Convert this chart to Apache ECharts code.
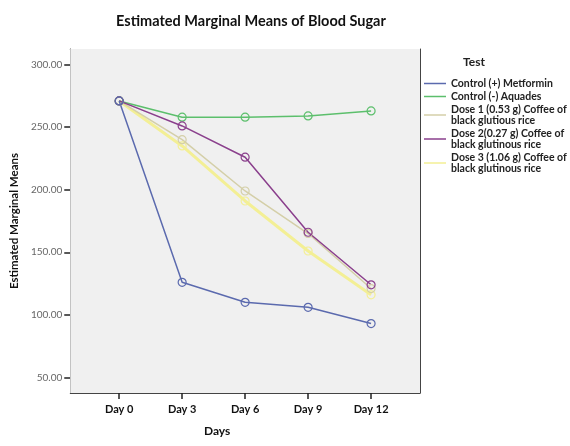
<!DOCTYPE html>
<html>
<head>
<meta charset="utf-8">
<script src="https://cdn.jsdelivr.net/npm/echarts@6/dist/echarts.min.js"></script>
<style>
  html, body { margin: 0; padding: 0; background: #fff; }
  #chart { width: 570px; height: 446px; }
</style>
</head>
<body>
<div id="chart"></div>
<script>
const days = [0, 3, 6, 9, 12]
const dayLabels = ['Day 0', 'Day 3', 'Day 6', 'Day 9', 'Day 12']
const yTicks = [50, 100, 150, 200, 250, 300]

const metformin = [271, 126, 110, 106, 93]
const aquades = [271, 258, 258, 259, 263]
const dose1 = [271, 240, 199, 165, 121]
const dose2 = [271, 251, 226, 166, 124]
const dose3 = [271, 235, 191, 151, 116]

const seriesNames = [
  'Control (+) Metformin',
  'Control (-) Aquades',
  'Dose 1 (0.53 g) Coffee of\nblack glutious rice',
  'Dose 2(0.27 g) Coffee of\nblack glutinous rice',
  'Dose 3 (1.06 g) Coffee of\nblack glutinous rice'
]
const seriesColors = ['#5b6aae', '#5cbf6c', '#d4cfa8', '#8a3f8c', '#f3ef95']

// axis extents
const xMin = -2.33, xMax = 14.33
const yMin = 37.5, yMax = 312.5

const font = 'Lato, "Open Sans", sans-serif'
const myChart = echarts.init(document.getElementById('chart'))

const makeLine = (idx, values, width) => ({
  name: seriesNames[idx],
  type: 'line',
  data: days.map((d, i) => [d, values[i]]),
  symbol: 'circle',
  symbolSize: 8,
  lineStyle: { color: seriesColors[idx], width: width },
  itemStyle: { color: 'rgba(0,0,0,0)', borderColor: seriesColors[idx], borderWidth: 1.2 }
})

// frame lines for top / right side
const frameAxis = {
  axisLine: { show: true, onZero: false, lineStyle: { color: '#444' } },
  axisTick: { show: false },
  axisLabel: { show: false },
  splitLine: { show: false }
}

const series = [
  makeLine(4, dose3, 3),
  makeLine(2, dose1, 1.5),
  makeLine(1, aquades, 1.5),
  makeLine(3, dose2, 1.5),
  makeLine(0, metformin, 1.5)
]
// plot background
series[0].markArea = {
  silent: true,
  itemStyle: { color: '#f0f0f0' },
  data: [[{ coord: [xMin, yMin] }, { coord: [xMax, yMax] }]]
}

const option = {
  backgroundColor: '#fff',
  animation: false,
  textStyle: { fontFamily: font },
  title: [
    {
      text: 'Estimated Marginal Means of Blood Sugar',
      left: 246,
      textAlign: 'center',
      top: 9,
      textStyle: { fontSize: 14.5, fontWeight: 'bold', color: '#111', fontFamily: font }
    },
    {
      text: 'Test',
      left: 458,
      top: 51,
      textStyle: { fontSize: 12, fontWeight: 'bold', color: '#222', fontFamily: font }
    }
  ],
  grid: {
    left: 63,
    right: 150,
    top: 49,
    bottom: 53
  },
  legend: {
    orient: 'vertical',
    left: 419,
    top: 73,
    icon: 'rect',
    itemWidth: 22,
    itemHeight: 1.5,
    itemGap: 2,
    data: seriesNames.map((n, i) => ({ name: n, itemStyle: { color: seriesColors[i], borderWidth: 0 } })),
    textStyle: { fontSize: 10.5, fontWeight: 'bold', color: '#222', lineHeight: 11, fontFamily: font }
  },
  xAxis: [
    {
      type: 'value',
      min: xMin,
      max: xMax,
      name: 'Days',
      nameLocation: 'middle',
      nameGap: 32,
      nameTextStyle: { fontSize: 12, fontWeight: 'bold', color: '#111', padding: [0, 56, 0, 0] },
      splitLine: { show: false },
      axisLine: { show: true, onZero: false, lineStyle: { color: '#444' } },
      axisTick: { show: true, length: 6, customValues: days, lineStyle: { color: '#222', width: 1.5 } },
      axisLabel: {
        customValues: days,
        margin: 11,
        fontSize: 11,
        fontWeight: 'bold',
        color: '#111',
        formatter: v => dayLabels[days.indexOf(v)]
      }
    },
    Object.assign({ type: 'value', position: 'top', min: xMin, max: xMax }, frameAxis)
  ],
  yAxis: [
    {
      type: 'value',
      min: yMin,
      max: yMax,
      name: 'Estimated Marginal Means',
      nameLocation: 'middle',
      nameGap: 44,
      nameTextStyle: { fontSize: 11.5, fontWeight: 'bold', color: '#111' },
      splitLine: { show: false },
      axisLine: { show: true, onZero: false, lineStyle: { color: '#444' } },
      axisTick: { show: true, length: 6, customValues: yTicks, lineStyle: { color: '#222', width: 1.5 } },
      axisLabel: {
        customValues: yTicks,
        margin: 8,
        fontSize: 10,
        color: '#666',
        formatter: v => v.toFixed(2)
      }
    },
    Object.assign({ type: 'value', position: 'right', min: yMin, max: yMax }, frameAxis)
  ],
  series: series
}

myChart.setOption(option)
</script>
</body>
</html>
